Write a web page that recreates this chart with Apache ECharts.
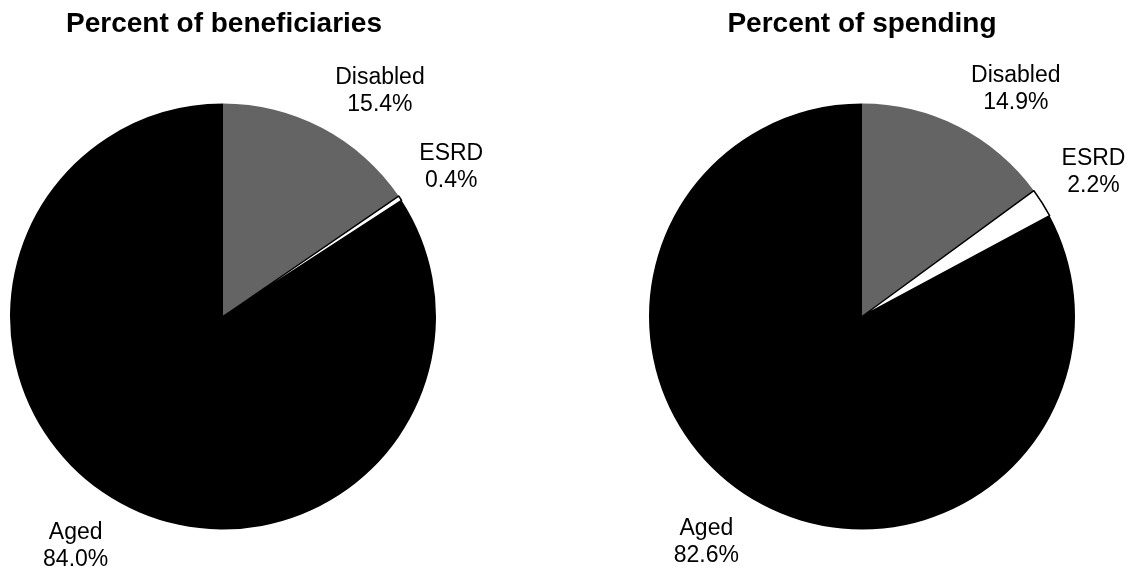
<!DOCTYPE html>
<html>
<head>
<meta charset="utf-8">
<script src="https://cdn.jsdelivr.net/npm/echarts@6/dist/echarts.min.js"></script>
<style>
  html, body { margin: 0; padding: 0; background: #fff; }
  #chart { width: 1130px; height: 567px; }
</style>
</head>
<body>
<div id="chart"></div>
<script>
const categories = ['Disabled', 'ESRD', 'Aged']
const beneficiaries = [15.4, 0.4, 84.0]
const spending = [14.9, 2.2, 82.6]
const titles = ['Percent of beneficiaries', 'Percent of spending']
const sliceColors = ['#646464', '#ffffff', '#000000']

const FONT = 'Arial, "Liberation Sans", sans-serif'

// put the label so its nearest corner touches the point just past the rim
function cornerLayout(params) {
  const pts = params.labelLinePoints
  if (!pts) return {}
  const p0 = pts[0], p1 = pts[1]
  const sx = Math.sign(p1[0] - p0[0]), sy = Math.sign(p1[1] - p0[1])
  const w = params.labelRect.width, h = params.labelRect.height
  return {
    x: p1[0] + sx * (w / 2 + 5),
    y: p1[1] + sy * h / 2 + (sy < 0 ? 5 : 1),
    align: 'center',
    verticalAlign: 'middle'
  }
}

function makePie(values, cx) {
  return {
    type: 'pie',
    center: [cx, 316.5],
    radius: 213,
    startAngle: 90,
    clockwise: true,
    animation: false,
    silent: true,
    avoidLabelOverlap: false,
    data: categories.map((name, i) => ({
      name: name,
      value: values[i],
      itemStyle: {
        color: sliceColors[i],
        // only the white slice shows an outline
        borderColor: '#000',
        borderWidth: name === 'ESRD' ? 1.5 : 0
      }
    })),
    label: {
      show: true,
      position: 'outside',
      formatter: p => p.name + '\n' + p.value.toFixed(1) + '%',
      fontFamily: FONT,
      fontSize: 23,
      lineHeight: 27,
      color: '#000'
    },
    labelLine: { show: false, length: 17, length2: 0 },
    labelLayout: cornerLayout
  }
}

const chart = echarts.init(document.getElementById('chart'))
chart.setOption({
  backgroundColor: '#fff',
  title: [
    { text: titles[0], left: 224, top: 10, textAlign: 'center', padding: 0,
      textStyle: { fontFamily: FONT, fontWeight: 'bold', fontSize: 28, color: '#000' } },
    { text: titles[1], left: 862, top: 10, textAlign: 'center', padding: 0,
      textStyle: { fontFamily: FONT, fontWeight: 'bold', fontSize: 28, color: '#000' } }
  ],
  series: [makePie(beneficiaries, 223), makePie(spending, 862)]
})
</script>
</body>
</html>
